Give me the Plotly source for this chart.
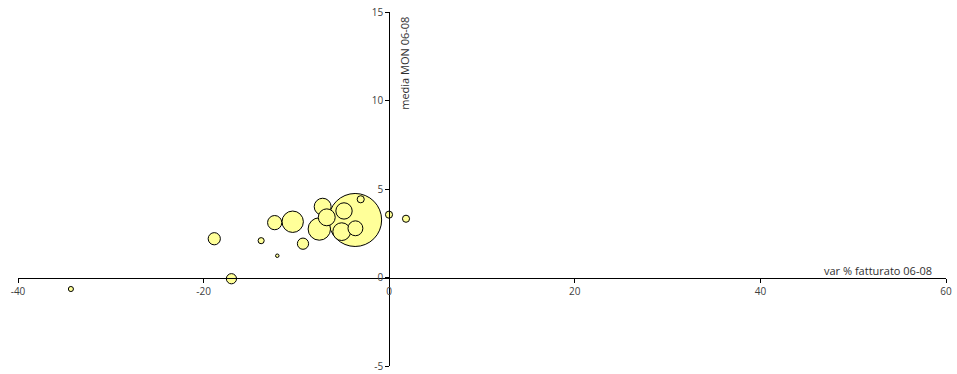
import plotly.graph_objects as go

# data
var_fatturato = [-34.3, -18.85, -17.0, -13.8, -12.06, -12.34, -10.4, -9.29, -7.53,
                 -7.17, -6.73, -4.87, -5.12, -3.64, -3.07, -3.67, -0.02, 1.81]
media_mon = [-0.65, 2.19, -0.07, 2.08, 1.23, 3.10, 3.15, 1.91, 2.74,
             4.00, 3.40, 3.76, 2.59, 2.78, 4.42, 3.25, 3.55, 3.32]
bubble_size = [0.92, 5.3, 3.7, 1.33, 0.43, 7.2, 16.3, 4.5, 17.9,
               10.2, 10.2, 9.5, 11.2, 7.9, 1.8, 100, 1.8, 1.8]

x_ticks = [-40, -20, 0, 20, 40, 60]
y_ticks = [-5, 0, 5, 10, 15]

# draw largest bubbles first so small ones sit on top
order = sorted(range(len(bubble_size)), key=lambda i: -bubble_size[i])
xs = [var_fatturato[i] for i in order]
ys = [media_mon[i] for i in order]
ss = [bubble_size[i] for i in order]

max_diam = 53
fig = go.Figure(go.Scatter(
    x=xs, y=ys, mode="markers",
    marker=dict(size=ss, sizemode="area", sizeref=2 * max(ss) / max_diam ** 2,
                color="#FFFF99", line=dict(color="#000000", width=1), opacity=1),
    hoverinfo="x+y",
    cliponaxis=False,
))

font = dict(family="Open Sans, Noto Sans, sans-serif", size=10, color="#404040")
title_font = dict(family="Open Sans, Noto Sans, sans-serif", size=11, color="#303030")

fig.update_layout(
    width=957, height=374,
    margin=dict(l=18, r=11, t=12, b=8, autoexpand=False),
    paper_bgcolor="white", plot_bgcolor="white",
    showlegend=False,
    font=font,
    xaxis=dict(range=[-40, 60], tickvals=x_ticks, ticktext=[str(v) for v in x_ticks],
               showgrid=False, zeroline=False, showline=True, linecolor="black", linewidth=1,
               ticks="outside", ticklen=4, tickcolor="black", anchor="free", position=0.25,
               tickfont=font, automargin=False),
    yaxis=dict(range=[-5, 15], tickvals=y_ticks, ticktext=[str(v) for v in y_ticks],
               showgrid=False, zeroline=False, showline=True, linecolor="black", linewidth=1,
               ticks="outside", ticklen=4, tickcolor="black", anchor="free", position=0.4,
               tickfont=font, automargin=False),
    annotations=[
        dict(text="var % fatturato 06-08", x=58.7, y=0.42, xref="x", yref="y",
             xanchor="right", yanchor="middle", showarrow=False, font=title_font),
        dict(text="media MON 06-08", x=0.6, y=14.83, xref="x", yref="y",
             xanchor="left", yanchor="top", textangle=-90, showarrow=False, font=title_font),
    ],
)

fig.write_html("out.html", config={"displayModeBar": False},
               post_script="document.body.style.margin='0px';document.body.style.overflow='hidden';")
